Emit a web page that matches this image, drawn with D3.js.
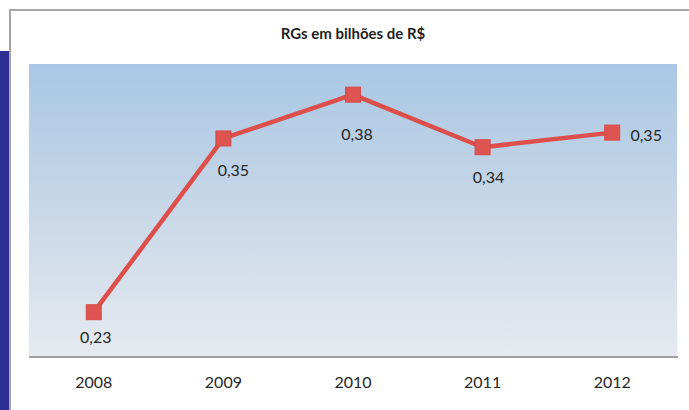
<!DOCTYPE html>
<html>
<head>
<meta charset="utf-8">
<script src="https://cdn.jsdelivr.net/npm/d3@7"></script>
<style>
    body { margin: 0; background: #ffffff; }
    #chart { width: 689px; height: 410px; }
</style>
</head>
<body>
<div id="chart"></div>
<script>
// Chart data
const years = ["2008", "2009", "2010", "2011", "2012"];
const rgValues = [0.230, 0.349, 0.379, 0.343, 0.353];
const chartTitle = "RGs em bilhões de R$";

// Manual label nudges (the original labels were placed by hand)
const labelDx = [2, 10, 4, 6, 34];
const labelDy = [24, 31, 39, 29, 2];

const fmt = v => d3.format(".2f")(v).replace(".", ",");

function createLineChart(containerId) {
    const totalWidth = 689;
    const totalHeight = 410;
    const plot = {left: 29, right: 677, top: 64, bottom: 356};

    d3.select(`#${containerId}`).selectAll("*").remove();

    const svg = d3.select(`#${containerId}`)
        .append("svg")
        .attr("width", totalWidth)
        .attr("height", totalHeight)
        .style("font-family", "Lato, 'Open Sans', sans-serif");

    // Background gradient for the plot area
    const defs = svg.append("defs");
    const grad = defs.append("linearGradient")
        .attr("id", "plotGrad")
        .attr("x1", 0).attr("y1", 0)
        .attr("x2", 0).attr("y2", 1);
    grad.append("stop").attr("offset", "0%").attr("stop-color", "#a9c7e4");
    grad.append("stop").attr("offset", "55%").attr("stop-color", "#cbd9e8");
    grad.append("stop").attr("offset", "100%").attr("stop-color", "#e6eaef");

    // Page decoration: blue side bar and grey frame
    svg.append("rect")
        .attr("x", 0).attr("y", 51)
        .attr("width", 9).attr("height", totalHeight - 51)
        .attr("fill", "#2d3092");

    svg.append("line")
        .attr("x1", 10).attr("x2", 10)
        .attr("y1", 9).attr("y2", totalHeight)
        .attr("stroke", "#a6a6a6")
        .attr("stroke-width", 2);

    svg.append("line")
        .attr("x1", 9).attr("x2", totalWidth)
        .attr("y1", 10).attr("y2", 10)
        .attr("stroke", "#a6a6a6")
        .attr("stroke-width", 2);

    // Plot area
    svg.append("rect")
        .attr("x", plot.left).attr("y", plot.top)
        .attr("width", plot.right - plot.left)
        .attr("height", plot.bottom - plot.top)
        .attr("fill", "url(#plotGrad)");

    const x = d3.scaleBand()
        .domain(years)
        .range([plot.left, plot.right])
        .padding(0);

    const y = d3.scaleLinear()
        .domain([0.2, 0.4])
        .range([plot.bottom, plot.top]);

    const cx = d => x(d) + x.bandwidth() / 2;

    // X axis
    const xAxis = svg.append("g")
        .attr("class", "axis")
        .attr("transform", `translate(0,${plot.bottom + 1})`)
        .call(d3.axisBottom(x).tickSize(0).tickPadding(20));

    xAxis.select(".domain")
        .attr("d", `M${plot.left},0H${plot.right + 1}`)
        .style("stroke", "#a0a0a0")
        .style("stroke-width", 2);

    xAxis.selectAll("text")
        .style("font-family", "Lato, 'Open Sans', sans-serif")
        .style("font-size", "16px")
        .style("fill", "#262626");

    const data = years.map((yr, i) => ({year: yr, value: rgValues[i], i: i}));

    // Line
    const line = d3.line()
        .x(d => cx(d.year))
        .y(d => y(d.value));

    svg.append("path")
        .datum(data)
        .attr("fill", "none")
        .attr("stroke", "#dc4f4b")
        .attr("stroke-width", 4.5)
        .attr("stroke-linejoin", "round")
        .attr("d", line);

    // Square markers
    const size = 15;
    svg.selectAll(".marker")
        .data(data)
        .enter().append("rect")
        .attr("class", "marker")
        .attr("x", d => cx(d.year) - size / 2)
        .attr("y", d => y(d.value) - size / 2)
        .attr("width", size)
        .attr("height", size)
        .attr("fill", "#dd5451")
        .attr("stroke", "#d84a46")
        .attr("stroke-width", 1);

    // Data labels
    svg.selectAll(".label")
        .data(data)
        .enter().append("text")
        .attr("class", "label")
        .attr("x", d => cx(d.year) + labelDx[d.i])
        .attr("y", d => y(d.value) + labelDy[d.i])
        .attr("text-anchor", "middle")
        .attr("dominant-baseline", "central")
        .style("font-size", "16px")
        .style("fill", "#262626")
        .text(d => fmt(d.value));

    // Title
    svg.append("text")
        .attr("x", 353)
        .attr("y", 39)
        .attr("text-anchor", "middle")
        .style("font-size", "15px")
        .style("font-weight", "bold")
        .style("fill", "#1f1f1f")
        .text(chartTitle);
}

createLineChart("chart");
</script>
</body>
</html>
